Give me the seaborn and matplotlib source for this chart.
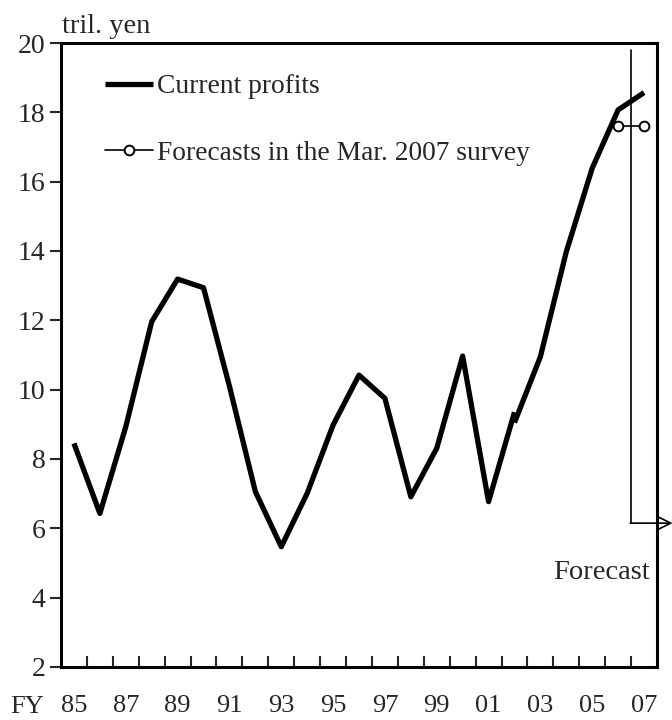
import numpy as np
import pandas as pd
import seaborn as sns
import matplotlib.pyplot as plt
from matplotlib.ticker import FixedLocator, FixedFormatter


# current profits, old sample (FY85 - FY02)
years_old = [85, 86, 87, 88, 89, 90, 91, 92, 93, 94, 95, 96, 97, 98, 99, 100, 101, 102]
profits_old = [8.45, 6.43, 8.93, 11.96, 13.19, 12.94, 10.1, 7.06, 5.47, 7.01, 8.98, 10.42, 9.75, 6.91, 8.31, 10.97, 6.77, 9.35]

# current profits, new sample (FY02 - FY07)
years_new = [102, 103, 104, 105, 106, 107]
profits_new = [9.05, 10.95, 13.98, 16.39, 18.07, 18.57]

# forecasts in the Mar. 2007 survey
years_fc = [106, 107]
values_fc = [17.6, 17.6]

tick_years = [85, 87, 89, 91, 93, 95, 97, 99, 101, 103, 105, 107]
tick_labels = ['85', '87', '89', '91', '93', '95', '97', '99', '01', '03', '05', '07']
y_ticks = [2, 4, 6, 8, 10, 12, 14, 16, 18, 20]

sns.set_style('ticks')
plt.rcParams['font.family'] = ['Liberation Serif', 'DejaVu Serif']

fig = plt.figure(figsize=(6.72, 7.2), dpi=100)
ax = fig.add_axes([61/672, 53/720, 596/672, 624/720])

df_old = pd.DataFrame({'year': years_old, 'profit': profits_old})
df_new = pd.DataFrame({'year': years_new, 'profit': profits_new})
df_fc = pd.DataFrame({'year': years_fc, 'value': values_fc})

sns.lineplot(data=df_old, x='year', y='profit', ax=ax, color='black', lw=3.8,
             label='Current profits', solid_capstyle='butt')
sns.lineplot(data=df_new, x='year', y='profit', ax=ax, color='black', lw=3.8,
             solid_capstyle='butt')
sns.lineplot(data=df_fc, x='year', y='value', ax=ax, color='black', lw=1.2,
             marker='o', markersize=7, markerfacecolor='white',
             markeredgecolor='black', markeredgewidth=1.4,
             label='Forecasts in the Mar. 2007 survey')

# forecast bracket + arrow
fc_edge = 106.5
ax.plot([fc_edge, fc_edge], [19.8, 6.15], color='black', lw=1.2)
ax.annotate('', xy=(108.1, 6.15), xytext=(fc_edge - 0.03, 6.15),
            arrowprops=dict(arrowstyle='->', color='black', lw=1.2, mutation_scale=22,
                            shrinkA=0, shrinkB=0),
            annotation_clip=False)
ax.text(107.24, 4.72, 'Forecast', ha='right', va='center', fontsize=20.5)

ax.set_xlim(84.5, 107.5)
ax.set_ylim(2, 20)
ax.xaxis.set_major_locator(FixedLocator(tick_years))
ax.xaxis.set_major_formatter(FixedFormatter(tick_labels))
ax.xaxis.set_minor_locator(FixedLocator(np.arange(85.5, 107, 1.0)))
ax.set_yticks(y_ticks)
ax.tick_params(axis='x', which='major', length=0, pad=20, labelsize=19)
ax.tick_params(axis='x', which='minor', direction='in', length=8, width=1.5)
ax.tick_params(axis='y', direction='out', length=8, width=1.5, pad=3, labelsize=20)
ax.set_xlabel('')
ax.set_ylabel('')

for s in ax.spines.values():
    s.set_visible(True)
    s.set_linewidth(2.2)
    s.set_color('black')

ax.text(83.85, -0.047, 'FY', transform=ax.get_xaxis_transform(), ha='right', va='top', fontsize=19)
ax.text(0.002, 1.006, 'tril. yen', transform=ax.transAxes, ha='left', va='bottom', fontsize=20.5)

ax.legend(loc='upper left', bbox_to_anchor=(0.074, 0.95), frameon=False, fontsize=19.8,
          handlelength=1.75, handletextpad=0.15, labelspacing=1.5, borderpad=0, borderaxespad=0)

fig.savefig('out.png', dpi=100)
